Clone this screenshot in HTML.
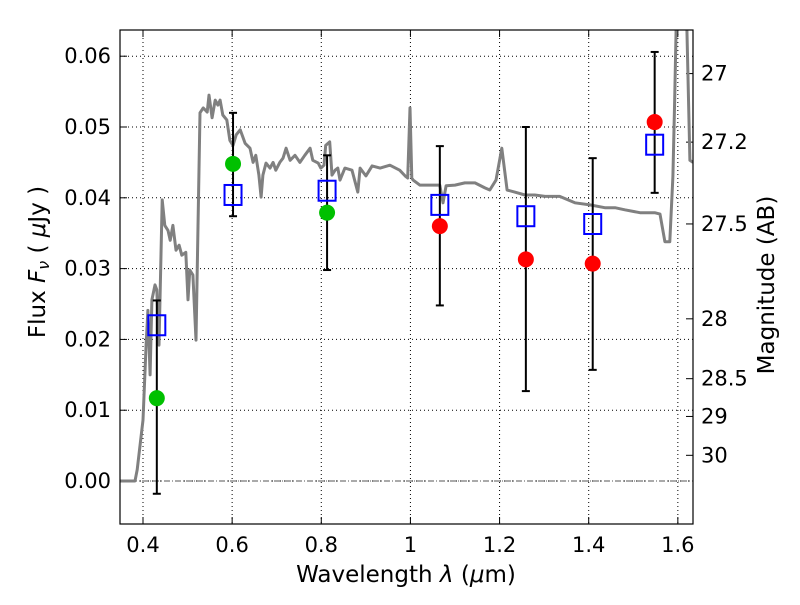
<!DOCTYPE html>
<html><head><meta charset="utf-8"><style>
body{margin:0;background:#fff;}
svg text{font-family:"DejaVu Sans","Liberation Sans",sans-serif;}
</style></head><body>
<svg id="chart" width="800" height="600"></svg>
<script>
const specLam=[0.348,0.382,0.387,0.400,0.407,0.411,0.416,0.420,0.427,0.431,0.436,0.443,0.449,0.456,0.461,0.467,0.474,0.481,0.487,0.496,0.501,0.505,0.512,0.519,0.528,0.535,0.544,0.548,0.555,0.562,0.568,0.573,0.579,0.588,0.595,0.602,0.609,0.618,0.629,0.640,0.647,0.653,0.660,0.665,0.669,0.676,0.685,0.692,0.698,0.707,0.714,0.721,0.730,0.741,0.752,0.763,0.775,0.781,0.793,0.799,0.806,0.810,0.819,0.824,0.831,0.837,0.842,0.853,0.869,0.882,0.887,0.900,0.914,0.932,0.954,0.976,0.988,0.994,0.999,1.003,1.006,1.021,1.044,1.066,1.073,1.080,1.100,1.122,1.145,1.167,1.178,1.192,1.205,1.217,1.234,1.257,1.279,1.302,1.335,1.369,1.403,1.436,1.459,1.481,1.515,1.548,1.560,1.571,1.582,1.589,1.593,1.598,1.618,1.627,1.634];
const specFlux=[0,0,0.0016,0.0086,0.0192,0.0241,0.0150,0.0256,0.0277,0.0270,0.0192,0.0397,0.0361,0.0354,0.0340,0.0361,0.0326,0.0333,0.0319,0.0323,0.0256,0.0298,0.0291,0.0199,0.0520,0.0527,0.0521,0.0545,0.0513,0.0538,0.0531,0.0538,0.0517,0.0510,0.0481,0.0474,0.0489,0.0496,0.0477,0.0470,0.0450,0.0460,0.0432,0.0401,0.0432,0.0449,0.0442,0.0450,0.0439,0.0450,0.0456,0.0470,0.0453,0.0460,0.0450,0.0460,0.0470,0.0453,0.0449,0.0442,0.0446,0.0474,0.0479,0.0432,0.0439,0.0442,0.0425,0.0442,0.0439,0.0408,0.0442,0.0431,0.0445,0.0442,0.0446,0.0439,0.0431,0.0428,0.0527,0.0428,0.0425,0.0418,0.0418,0.0418,0.0393,0.0417,0.0418,0.0421,0.0421,0.0414,0.0411,0.0425,0.0470,0.0411,0.0408,0.0404,0.0404,0.0402,0.0402,0.0393,0.0390,0.0386,0.0386,0.0383,0.0379,0.0379,0.0377,0.0338,0.0338,0.0430,0.0540,0.0700,0.0700,0.0453,0.0450];
const bandLam=[0.431,0.602,0.813,1.066,1.259,1.409,1.548];
const obsFlux=[0.0117,0.0448,0.0379,0.0360,0.0313,0.0307,0.0507];
const obsColor=['#00c000','#00c000','#00c000','red','red','red','red'];
const errHi=[0.0255,0.0520,0.0460,0.0473,0.0500,0.0456,0.0606];
const errLo=[-0.0018,0.0374,0.0298,0.0248,0.0127,0.0157,0.0407];
const modelFlux=[0.0220,0.0404,0.0410,0.0390,0.0374,0.0363,0.0475];
const xTicks=[0.4,0.6,0.8,1.0,1.2,1.4,1.6];
const xTickLabels=['0.4','0.6','0.8','1','1.2','1.4','1.6'];
const yTicks=[0,0.01,0.02,0.03,0.04,0.05,0.06];
const yTickLabels=['0.00','0.01','0.02','0.03','0.04','0.05','0.06'];
const magTicks=[27,27.2,27.5,28,28.5,29,30];
const magLabels=['27','27.2','27.5','28','28.5','29','30'];

const L=120,R=693,T=30,B=524;
const xMin=0.3484,xMax=1.634,yMin=-0.00607,yMax=0.0637;
const sx=v=>L+(v-xMin)/(xMax-xMin)*(R-L);
const sy=v=>B-(v-yMin)/(yMax-yMin)*(B-T);
const NS='http://www.w3.org/2000/svg';
const svg=document.getElementById('chart');
function mk(tag,attrs,parent){const e=document.createElementNS(NS,tag);for(const k in attrs)e.setAttribute(k,attrs[k]);(parent||svg).appendChild(e);return e;}

const defs=mk('defs',{});
const cp=mk('clipPath',{id:'clip'},defs);
mk('rect',{x:L,y:T,width:R-L,height:B-T},cp);
const FS=21, TS=23;

xTicks.forEach((t,i)=>{
  const g=mk('line',{x1:sx(t),x2:sx(t),y1:T,y2:B,stroke:'#000','stroke-width':1,'stroke-dasharray':'1,3'});
  
  
  mk('line',{x1:sx(t),x2:sx(t),y1:B,y2:B-7,stroke:'#000','stroke-width':1});
  mk('line',{x1:sx(t),x2:sx(t),y1:T,y2:T+7,stroke:'#000','stroke-width':1});
  const tx=mk('text',{x:sx(t),y:B+28,'text-anchor':'middle','font-size':FS});
  tx.textContent=xTickLabels[i];
  
  
});
yTicks.forEach((t,i)=>{
  const g=mk('line',{x1:L,x2:R,y1:sy(t),y2:sy(t),stroke:'#000','stroke-width':1,'stroke-dasharray':'1,3'});
  
  
  mk('line',{x1:L,x2:L+7,y1:sy(t),y2:sy(t),stroke:'#000','stroke-width':1});
  const tx=mk('text',{x:L-9,y:sy(t)+7,'text-anchor':'end','font-size':FS});
  tx.textContent=yTickLabels[i];
  
  
});
const z=mk('line',{x1:L,x2:R,y1:sy(0),y2:sy(0),stroke:'#555','stroke-width':1,'stroke-dasharray':'6,2,1,2'});



magTicks.forEach((m,i)=>{
  const f=Math.pow(10,(23.9-m)/2.5);
  const y=sy(f);
  mk('line',{x1:R,x2:R-7,y1:y,y2:y,stroke:'#000','stroke-width':1});
  const tx=mk('text',{x:R+8,y:y+7,'text-anchor':'start','font-size':FS});
  tx.textContent=magLabels[i];
  
  
});

let d='';
specLam.forEach((l,i)=>{d+=(i?'L':'M')+sx(l).toFixed(1)+','+sy(specFlux[i]).toFixed(1);});
const sp=mk('path',{d:d,fill:'none',stroke:'#808080','stroke-width':3,'clip-path':'url(#clip)','stroke-linejoin':'round'});



bandLam.forEach((l,i)=>{
  const x=sx(l);
  const g=mk('g',{stroke:'#000','stroke-width':2});
  
  
  mk('line',{x1:x,x2:x,y1:sy(errHi[i]),y2:sy(errLo[i])},g);
  mk('line',{x1:x-4,x2:x+4,y1:sy(errHi[i]),y2:sy(errHi[i])},g);
  mk('line',{x1:x-4,x2:x+4,y1:sy(errLo[i]),y2:sy(errLo[i])},g);
});
bandLam.forEach((l,i)=>{
  const c=mk('circle',{cx:sx(l),cy:sy(obsFlux[i]),r:8,fill:obsColor[i]});
  
  
});
bandLam.forEach((l,i)=>{
  const s=mk('rect',{x:sx(l)-8.5,y:sy(modelFlux[i])-10,width:17,height:20,fill:'none',stroke:'#0000ff','stroke-width':2});
  
  
});

const fr=mk('rect',{x:L,y:T,width:R-L,height:B-T,fill:'none',stroke:'#000','stroke-width':1.2});



const xt=mk('text',{x:406,y:582,'text-anchor':'middle','font-size':TS});
xt.innerHTML='Wavelength  <tspan font-style="italic">λ</tspan> (<tspan font-style="italic">μ</tspan>m)';


const yt=mk('text',{x:0,y:0,'text-anchor':'middle','font-size':TS,transform:'translate(45,262) rotate(-90)'});
yt.innerHTML='Flux  <tspan font-style="italic">F</tspan><tspan font-style="italic" font-size="16" dy="4">ν</tspan><tspan dy="-4">  ( <tspan font-style="italic">μ</tspan>Jy )</tspan>';


const rt=mk('text',{x:0,y:0,'text-anchor':'middle','font-size':TS,transform:'translate(774,285) rotate(-90)'});
rt.textContent='Magnitude (AB)';


</script>
</body></html>
